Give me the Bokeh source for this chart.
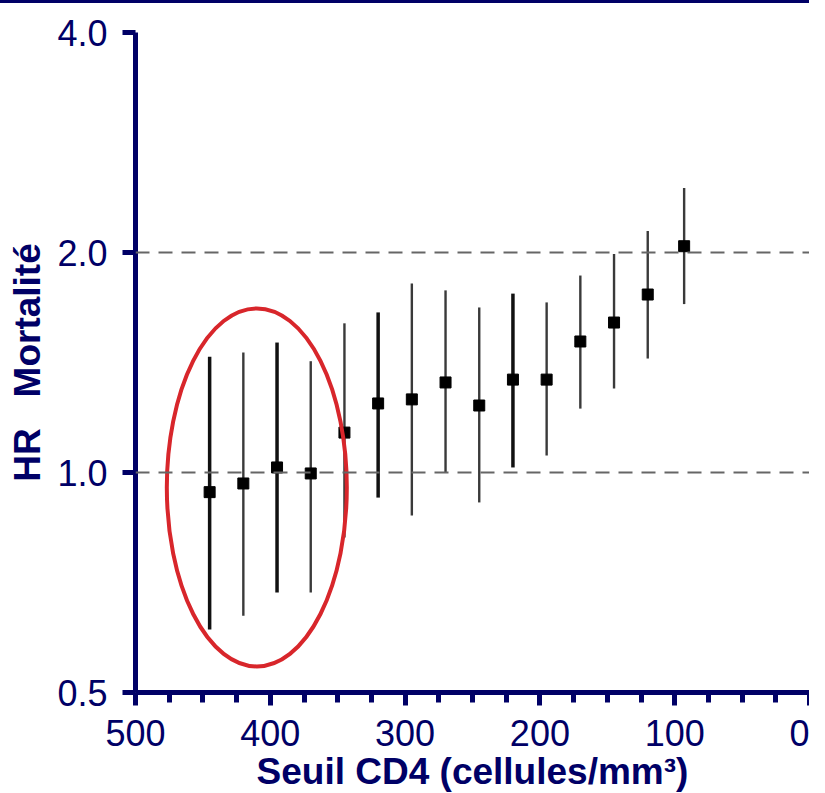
from bokeh.plotting import figure
from bokeh.layouts import column
from bokeh.models import Range1d, FixedTicker, PrintfTickFormatter, Span, ColumnDataSource, Div
from bokeh.embed import file_html
from bokeh.resources import INLINE

# CD4 threshold (cells/mm3)
cd4 = [445, 420, 395, 370, 345, 320, 295, 270, 245, 220, 195, 170, 145, 120, 93]
# Hazard ratio of mortality and 95% CI
hr = [0.94, 0.966, 1.016, 0.997, 1.134, 1.243, 1.259, 1.328, 1.235, 1.34, 1.34, 1.511, 1.604, 1.752, 2.04]
hr_low = [0.61, 0.637, 0.685, 0.685, 0.815, 0.924, 0.873, 1.0, 0.91, 1.016, 1.055, 1.223, 1.303, 1.432, 1.70]
hr_high = [1.44, 1.46, 1.506, 1.42, 1.60, 1.656, 1.814, 1.775, 1.682, 1.757, 1.709, 1.86, 1.99, 2.14, 2.45]

x_ticks = [0, 100, 200, 300, 400, 500]
x_minor = [25, 50, 75, 125, 150, 175, 225, 250, 275, 325, 350, 375, 425, 450, 475]
y_ticks = [0.5, 1.0, 2.0, 4.0]
ref_lines = [1.0, 2.0]
# highlighted group (circled)
circle_x = [410]
circle_y = [0.954]

NAVY = "#000066"
strong = [True, False, True, False, False, True, False, False, False, True, False, False, False, False, False]
wcol = ["#111111" if s else "#3a3a3a" for s in strong]
wwid = [3.5 if s else 2.4 for s in strong]

src = ColumnDataSource(dict(x=cd4, hr=hr, lo=hr_low, hi=hr_high, c=wcol, w=wwid))

p = figure(width=809, height=787, output_backend="svg", toolbar_location=None,
           y_axis_type="log",
           x_range=Range1d(500, 0), y_range=Range1d(0.5, 4.0),
           min_border_left=135, min_border_right=0, min_border_top=29, min_border_bottom=5)
p.frame_width = 674
p.frame_height = 660
p.outline_line_color = None
p.xgrid.visible = False
p.ygrid.visible = False
p.background_fill_color = "white"

for loc in ref_lines:
    p.add_layout(Span(location=loc, dimension="width", line_color="#666666",
                      line_width=2, line_dash="14 9"))

p.segment(x0="x", y0="lo", x1="x", y1="hi", source=src, line_color="c", line_width="w")
p.scatter(x="x", y="hr", source=src, marker="square", size=11, fill_color="black", line_color="black")

p.ellipse(x=circle_x, y=circle_y, width=180, height=358, width_units="screen", height_units="screen",
          fill_color=None, line_color="#d8262b", line_width=4)

# axes
xa = p.xaxis[0]
xa.ticker = FixedTicker(ticks=x_ticks, minor_ticks=x_minor)
xa.bounds = (0, 500)
ya = p.yaxis[0]
ya.ticker = FixedTicker(ticks=y_ticks, minor_ticks=[])
ya.formatter = PrintfTickFormatter(format="%.1f")
ya.bounds = (0.5, 4.0)

for ax in (xa, ya):
    ax.axis_line_color = NAVY
    ax.axis_line_width = 5
    ax.major_tick_line_color = NAVY
    ax.major_tick_line_width = 5
    ax.major_tick_in = 0
    ax.major_tick_out = 13
    ax.minor_tick_line_color = NAVY
    ax.minor_tick_line_width = 5
    ax.minor_tick_in = 0
    ax.minor_tick_out = 10
    ax.major_label_text_font = "Liberation Sans"
    ax.major_label_text_font_size = "36px"
    ax.major_label_text_color = NAVY
    ax.axis_label_text_font = "Liberation Sans"
    ax.axis_label_text_font_size = "37px"
    ax.axis_label_text_font_style = "bold"
    ax.axis_label_text_color = NAVY

xa.axis_label = "Seuil CD4 (cellules/mm³)"
xa.major_label_standoff = 14
xa.axis_label_standoff = 2
ya.axis_label = "HR\u00a0\u00a0\u00a0Mortalité"
ya.major_label_standoff = 15
ya.axis_label_standoff = 6

band = Div(width=809, height=3, styles={"background-color": NAVY, "margin": "0", "padding": "0"})
layout = column(band, p, spacing=0)

open("out.html", "w").write(file_html(layout, INLINE))
